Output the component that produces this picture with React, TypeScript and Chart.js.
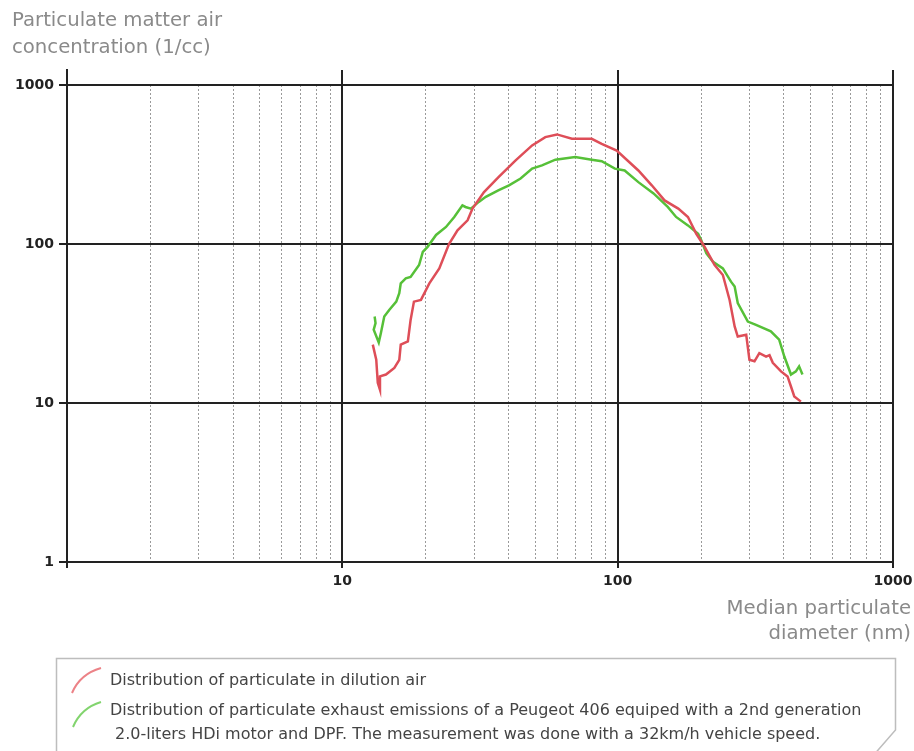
import React, { useEffect, useRef } from "react";
import { Chart, registerables } from "chart.js";

Chart.register(...registerables);

const xTickValues = [1, 10, 100, 1000];
const xTickLabels = ["", "10", "100", "1000"];
const yTickValues = [1, 10, 100, 1000];
const yTickLabels = ["1", "10", "100", "1000"];
const minorXValues = [2, 3, 4, 5, 6, 7, 8, 9, 20, 30, 40, 50, 60, 70, 80, 90, 200, 300, 400, 500, 600, 700, 800, 900];

const yAxisTitle = ["Particulate matter air", "concentration (1/cc)"];
const xAxisTitle = ["Median particulate", "diameter (nm)"];
const legendDilution = "Distribution of particulate in dilution air";
const legendExhaust = [
  "Distribution of particulate exhaust emissions of a Peugeot 406 equiped with a 2nd generation",
  "2.0-liters HDi motor and DPF. The measurement was done with a 32km/h vehicle speed.",
];

const dilutionX = [12.9, 13.28, 13.45, 13.7, 13.7, 14.4, 15.45, 16.1, 16.3, 17.3, 17.7, 18.2, 19.3, 20.7, 22.5, 24.4, 26.2, 28.5, 29.7, 32.7, 37.0, 42.6, 48.9, 54.6, 60.2, 68.2, 80.5, 87.5, 99.2, 118.9, 133, 148, 166, 180, 193, 207, 225, 241, 255, 266, 273, 293, 301, 314, 327, 346, 356, 366, 392, 414, 426, 438, 463];
const dilutionY = [23.3, 18.7, 13.4, 12.1, 14.7, 15.1, 16.6, 18.7, 23.3, 24.4, 33.3, 43.4, 44.5, 56.6, 70.3, 100, 122, 141, 167, 212, 264, 336, 417, 470, 489, 459, 459, 427, 387, 290, 234, 188, 167, 148, 116, 96, 73.8, 63.8, 44.5, 30.3, 26.2, 26.9, 18.7, 18.3, 20.6, 19.6, 20, 17.9, 15.8, 14.7, 12.7, 11.0, 10.2];

const exhaustX = [13.1, 13.2, 13.0, 13.56, 13.8, 14.2, 14.8, 15.7, 16.1, 16.3, 17.0, 17.7, 19.0, 19.6, 20.4, 21.9, 23.8, 25.5, 27.3, 28.0, 29.3, 31.3, 33.2, 37.0, 40.3, 44.4, 48.9, 53.1, 59.4, 70.1, 80.5, 87.5, 97.7, 106, 118.9, 135, 152, 163, 180, 196, 201, 210, 222, 241, 258, 266, 273, 297, 318, 360, 386, 403, 426, 444, 456, 469];
const exhaustY = [35, 31.8, 28.9, 24.0, 27.5, 35, 38.5, 43.4, 49, 56.6, 60.8, 62, 73.8, 89.3, 96, 114, 128, 148, 175, 171, 167, 184, 198, 218, 234, 258, 298, 312, 339, 352, 339, 332, 298, 290, 245, 208, 171, 148, 131, 116, 106, 87.3, 77.3, 70.3, 58, 54, 42.5, 32.5, 31, 28.2, 25, 19.6, 15.1, 15.8, 17.0, 15.1];

const RED = "rgb(222,78,88)";
const GREEN = "rgb(86,192,56)";
const FONT = "'DejaVu Sans', Verdana, sans-serif";

const minorGridPlugin = {
  id: "minorGrid",
  beforeDraw(chart: any) {
    const { ctx, chartArea, scales } = chart;
    const x = scales.x;
    const y = scales.y;
    const top = Math.round(y.getPixelForValue(1000));
    ctx.save();
    ctx.strokeStyle = "#9a9a9a";
    ctx.lineWidth = 1;
    ctx.setLineDash([2, 2]);
    ctx.beginPath();
    for (const v of minorXValues) {
      const px = Math.round(x.getPixelForValue(v)) + 0.5;
      ctx.moveTo(px, top);
      ctx.lineTo(px, chartArea.bottom);
    }
    ctx.stroke();
    ctx.restore();
  },
};

export default function App() {
  const canvasRef = useRef<HTMLCanvasElement | null>(null);

  useEffect(() => {
    const canvas = canvasRef.current;
    if (!canvas) return;
    const chart = new Chart(canvas, {
      type: "line",
      data: {
        datasets: [
          {
            label: legendDilution,
            data: dilutionX.map((x, i) => ({ x, y: dilutionY[i] })),
            borderColor: RED,
            borderWidth: 2.5,
            pointRadius: 0,
            fill: false,
            tension: 0,
          },
          {
            label: legendExhaust.join(" "),
            data: exhaustX.map((x, i) => ({ x, y: exhaustY[i] })),
            borderColor: GREEN,
            borderWidth: 2.5,
            pointRadius: 0,
            fill: false,
            tension: 0,
          },
        ],
      },
      options: {
        responsive: false,
        animation: false,
        devicePixelRatio: 1,
        layout: { padding: { left: 0, top: 70, right: 21, bottom: 0 } },
        plugins: {
          legend: { display: false },
          tooltip: { enabled: false },
        },
        scales: {
          x: {
            type: "logarithmic",
            min: 1,
            max: 1000,
            afterBuildTicks: (s: any) => {
              s.ticks = xTickValues.map((v) => ({ value: v }));
            },
            afterFit: (s: any) => {
              s.height = 38;
              s.paddingLeft = 0;
              s.paddingRight = 0;
            },
            ticks: {
              autoSkip: false,
              maxRotation: 0,
              padding: 5,
              color: "#222",
              font: { family: FONT, size: 14, weight: "bold" },
              callback: (_v: any, i: number) => xTickLabels[i],
            },
            grid: { color: "#222", lineWidth: 2, tickLength: 6 },
            border: { color: "#222", width: 2 },
          },
          y: {
            type: "logarithmic",
            min: 1,
            max: 1243,
            afterBuildTicks: (s: any) => {
              s.ticks = yTickValues.map((v) => ({ value: v }));
            },
            afterFit: (s: any) => {
              s.width = 67;
              s.paddingTop = 0;
              s.paddingBottom = 0;
            },
            ticks: {
              autoSkip: false,
              padding: 5,
              color: "#222",
              font: { family: FONT, size: 14, weight: "bold" },
              callback: (_v: any, i: number) => yTickLabels[i],
            },
            grid: { color: "#222", lineWidth: 2, tickLength: 8 },
            border: { color: "#222", width: 2 },
          },
        },
      } as any,
      plugins: [minorGridPlugin],
    });
    return () => chart.destroy();
  }, []);

  const titleStyle: React.CSSProperties = {
    position: "absolute",
    fontFamily: FONT,
    fontSize: 19.7,
    color: "#8a8a8a",
    lineHeight: "27px",
    whiteSpace: "pre",
  };

  const legendText: React.CSSProperties = {
    position: "absolute",
    fontFamily: FONT,
    fontSize: 16,
    color: "#444",
    lineHeight: "24px",
    whiteSpace: "pre",
  };

  return (
    <div
      style={{
        position: "fixed",
        left: 0,
        top: 0,
        width: 914,
        height: 751,
        overflow: "hidden",
        background: "#fff",
      }}
    >
      <canvas
        ref={canvasRef}
        width={914}
        height={600}
        style={{ position: "absolute", left: 0, top: 0, width: 914, height: 600, display: "block" }}
      />
      <div style={{ ...titleStyle, left: 12, top: 6 }}>
        {yAxisTitle[0]}
        <br />
        {yAxisTitle[1]}
      </div>
      <div style={{ ...titleStyle, right: 3, top: 595, textAlign: "right", lineHeight: "25px" }}>
        {xAxisTitle[0]}
        <br />
        {xAxisTitle[1]}
      </div>
      <svg
        width={914}
        height={751}
        style={{ position: "absolute", left: 0, top: 0, pointerEvents: "none" }}
      >
        <path
          d="M56.5 760 L56.5 658.5 L895.5 658.5 L895.5 730 L872 757"
          fill="none"
          stroke="#bdbdbd"
          strokeWidth={1.5}
        />
        <path d="M72 693 Q80 674 101 668" fill="none" stroke="rgb(236,130,135)" strokeWidth={2} />
        <path d="M73 727 Q81 708 101 702" fill="none" stroke="rgb(130,212,110)" strokeWidth={2} />
      </svg>
      <div style={{ ...legendText, left: 110, top: 668 }}>{legendDilution}</div>
      <div style={{ ...legendText, left: 110, top: 698 }}>{legendExhaust[0]}</div>
      <div style={{ ...legendText, left: 115, top: 722 }}>{legendExhaust[1]}</div>
    </div>
  );
}
